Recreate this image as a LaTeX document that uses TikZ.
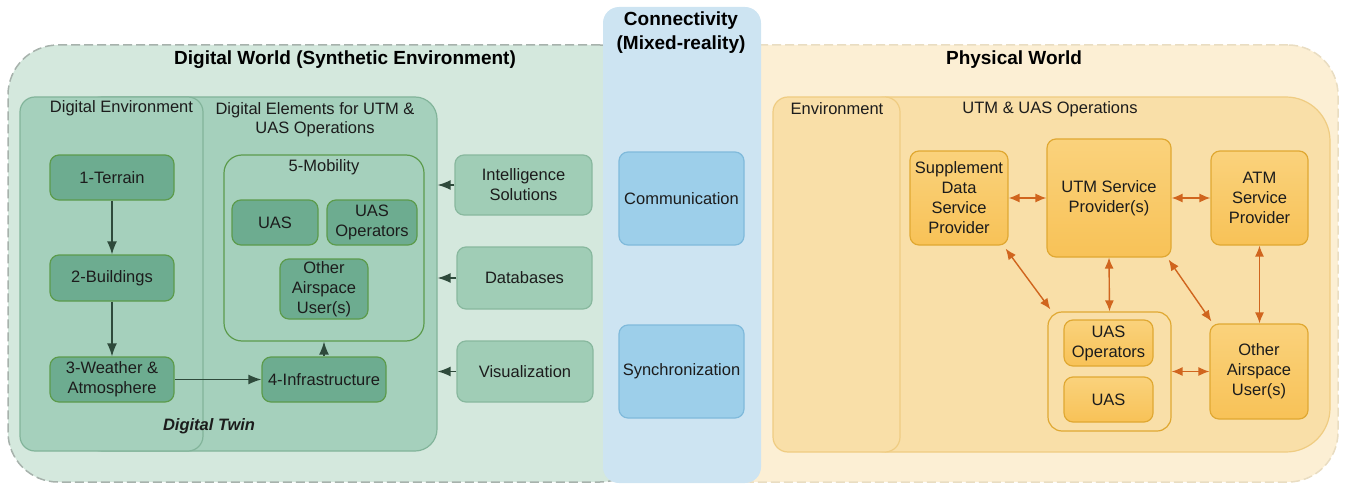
\documentclass[tikz,border=0pt]{standalone}
\usepackage{fontspec}
\setmainfont{Liberation Sans}
\usetikzlibrary{arrows.meta}
\definecolor{gworldfill}{HTML}{D4E8DD}
\definecolor{gworlddraw}{HTML}{A7B2AC}
\definecolor{gpanelfill}{HTML}{A5D0BC}
\definecolor{gpaneldraw}{HTML}{82B49A}
\definecolor{gnodefill}{HTML}{6DAC90}
\definecolor{gnodedraw}{HTML}{5C9B4C}
\definecolor{rnodefill}{HTML}{A0CDB6}
\definecolor{rnodedraw}{HTML}{88B89E}
\definecolor{garrow}{HTML}{2E4A3B}
\definecolor{bpanelfill}{HTML}{CDE4F2}
\definecolor{bnodefill}{HTML}{9DCFEA}
\definecolor{bnodedraw}{HTML}{80BADB}
\definecolor{oworldfill}{HTML}{FCEFD4}
\definecolor{oworlddraw}{HTML}{E9DDC2}
\definecolor{opanelfill}{HTML}{F9DFA8}
\definecolor{opaneldraw}{HTML}{EFCC82}
\definecolor{onodetop}{HTML}{FAD27C}
\definecolor{onodebot}{HTML}{F8C257}
\definecolor{onodedraw}{HTML}{E0A832}
\definecolor{oarrow}{HTML}{D0651E}
\definecolor{txt}{HTML}{1C1C1C}
\tikzset{
  base/.style={font=\fontsize{16.5}{20}\selectfont, align=center, text=txt, inner sep=0pt},
  box/.style={base, rounded corners=9, line width=1.2},
  gnode/.style={box, draw=gnodedraw, fill=gnodefill},
  rnode/.style={box, draw=rnodedraw, fill=rnodefill},
  bnode/.style={box, draw=bnodedraw, fill=bnodefill},
  onode/.style={box, draw=onodedraw, top color=onodetop, bottom color=onodebot},
  gpanel/.style={base, draw=gpaneldraw, fill=gpanelfill, line width=1.2, rounded corners=18},
  opanel/.style={base, draw=opaneldraw, fill=opanelfill, line width=1.2, rounded corners=16},
  world/.style={base, line width=1.5, dash pattern=on 9pt off 4pt, rounded corners=50},
  titletext/.style={font=\fontsize{19}{24}\selectfont\bfseries, align=center, text=black, inner sep=0pt},
  lbl/.style={base},
  garr/.style={draw=garrow, line width=1.4, -{Latex[length=13pt,width=10pt]}},
  oarr/.style={draw=oarrow, line width=1.4, {Latex[length=11pt,width=9pt]}-{Latex[length=11pt,width=9pt]}},
}
\begin{document}
\begin{tikzpicture}[x=1pt,y=-1pt]
\useasboundingbox (0,0) rectangle (1346,484);
% worlds
\node[world, draw=gworlddraw, fill=gworldfill, minimum width=642, minimum height=437] (gworld) at (329,263.5) {};
\node[world, draw=oworlddraw, fill=oworldfill, minimum width=638, minimum height=437] (oworld) at (1019,263.5) {};
\node[base, fill=bpanelfill, rounded corners=16, minimum width=158, minimum height=476] (bworld) at (682,245) {};
% titles
\node[titletext] (gwt) at (345,60) {Digital World (Synthetic Environment)};
\node[titletext] (owt) at (1014,60) {Physical World};
\node[titletext] (cwt) at (681,33) {Connectivity\\(Mixed-reality)};
% green panels
\node[gpanel, rounded corners=22, minimum width=357, minimum height=354] (delem) at (258.5,274) {};
\node[gpanel, rounded corners=15, minimum width=183, minimum height=354] (denv) at (111.5,274) {};
\node[lbl] (denvl) at (121.5,108) {Digital Environment};
\node[lbl, font=\fontsize{16.5}{19}\selectfont] (deleml) at (315,119.5) {Digital Elements for UTM \&\\UAS Operations};
\node[lbl, font=\fontsize{16.5}{20}\selectfont\bfseries\itshape] (twin) at (209,426) {Digital Twin};
% mobility
\node[box, draw=gnodedraw, fill=gpanelfill, rounded corners=18, minimum width=200, minimum height=186] (mob) at (324,248) {};
\node[lbl] (mobl) at (324,167) {5-Mobility};
\node[gnode, minimum width=86, minimum height=45] (uas1) at (275,222.5) {UAS};
\node[gnode, minimum width=90, minimum height=45] (op1) at (372,222.5) {UAS\\Operators};
\node[gnode, minimum width=88, minimum height=60] (oau1) at (324,289) {Other\\Airspace\\User(s)};
% digital environment nodes
\node[gnode, minimum width=124, minimum height=45] (t1) at (112,177.5) {1-Terrain};
\node[gnode, minimum width=124, minimum height=46] (t2) at (112,278) {2-Buildings};
\node[gnode, minimum width=124, minimum height=45] (t3) at (112,379.5) {3-Weather \&\\Atmosphere};
\node[gnode, minimum width=124, minimum height=45] (t4) at (324,379.5) {4-Infrastructure};
% right green nodes
\node[rnode, minimum width=137, minimum height=60] (intel) at (523.5,185) {Intelligence\\Solutions};
\node[rnode, minimum width=135, minimum height=62] (db) at (524.5,278) {Databases};
\node[rnode, minimum width=136, minimum height=61] (vis) at (525,371.5) {Visualization};
% blue nodes
\node[bnode, minimum width=125, minimum height=93] (comm) at (681.5,198.5) {Communication};
\node[bnode, minimum width=125, minimum height=93] (sync) at (681.5,371.5) {Synchronization};
% green arrows
\draw[garr] (t1) -- (t2);
\draw[garr] (t2) -- (t3);
\draw[garr] (t3.east) -- (t4.west);
\draw[garr] (t4.north) -- (mob.south);
\draw[garr] (intel.west) -- (intel.west -| delem.east);
\draw[garr] (db.west) -- (db.west -| delem.east);
\draw[garr] (vis.west) -- (vis.west -| delem.east);
% orange panels
\node[opanel, rounded corners=44, minimum width=487, minimum height=355] (uops) at (1086.5,274.5) {};
\node[opanel, rounded corners=15, minimum width=127, minimum height=355] (env) at (836.5,274.5) {};
\node[lbl] (envl) at (837,109) {Environment};
\node[lbl] (uopl) at (1050,109) {UTM \& UAS Operations};
% orange nodes
\node[onode, minimum width=98, minimum height=94] (sup) at (959,198) {Supplement\\Data\\Service\\Provider};
\node[onode, minimum width=124, minimum height=118] (utm) at (1109,198) {UTM Service\\Provider(s)};
\node[onode, minimum width=97, minimum height=94] (atm) at (1259.5,198) {ATM\\Service\\Provider};
\node[box, draw=onodedraw, fill=opanelfill, rounded corners=14, minimum width=123, minimum height=119] (grp) at (1109.5,371.5) {};
\node[onode, minimum width=89, minimum height=46] (uop) at (1108.5,343) {UAS\\Operators};
\node[onode, minimum width=89, minimum height=45] (uas2) at (1108.5,399.5) {UAS};
\node[onode, minimum width=98, minimum height=95] (oth) at (1259,371.5) {Other\\Airspace\\User(s)};
% orange arrows
\draw[oarr] (sup.east) -- (utm.west);
\draw[oarr] (utm.east) -- (atm.west);
\draw[oarr] ([xshift=-3,yshift=-3]sup.south east) -- ([xshift=3,yshift=2]grp.north west);
\draw[oarr] (utm.south) -- (grp.north);
\draw[oarr] ([xshift=-3,yshift=-2]utm.south east) -- ([xshift=2,yshift=2]oth.north west);
\draw[oarr] (atm.south) -- (atm.south |- oth.north);
\draw[oarr] (grp.east) -- (oth.west);
\end{tikzpicture}
\end{document}
